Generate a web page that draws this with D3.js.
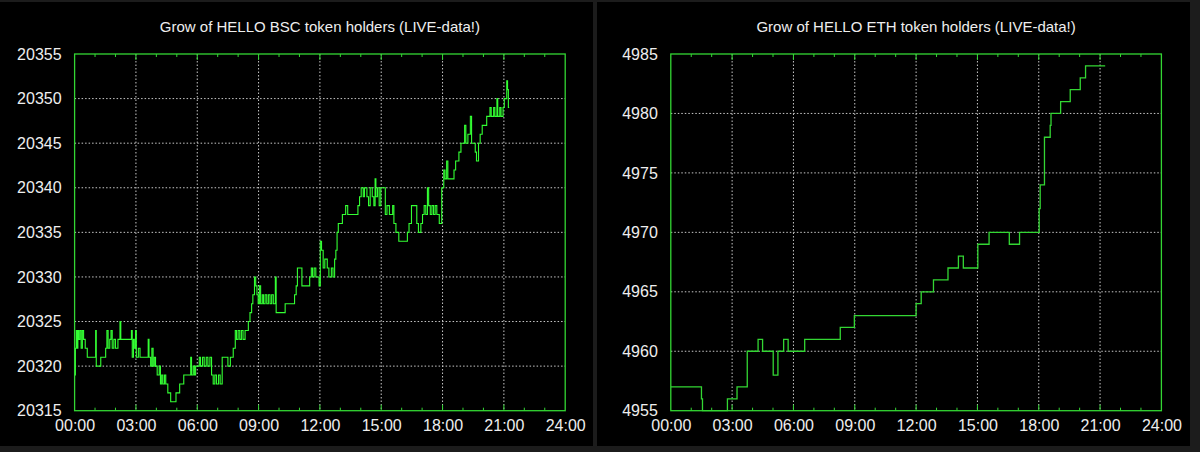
<!DOCTYPE html>
<html>
<head>
<meta charset="utf-8">
<script src="https://cdn.jsdelivr.net/npm/d3@7"></script>
<style>
  body { margin: 0; background: #1c1c1c; }
  svg { display: block; }
</style>
</head>
<body>
<div id="charts"></div>
<script>
// hour ticks and labels shared by both charts
var hourTicks = [0, 3, 6, 9, 12, 15, 18, 21, 24];
var hourLabels = ["00:00", "03:00", "06:00", "09:00", "12:00", "15:00", "18:00", "21:00", "24:00"];

// BSC holders, time in hours since midnight
var bscTimes = [0.00, 0.04, 0.08, 0.12, 0.16, 0.20, 0.26, 0.32, 0.38, 0.44, 0.52, 0.62, 1.03, 1.06, 1.28,
  1.52, 1.58, 1.64, 1.72, 1.78, 1.84, 1.92, 2.00, 2.12, 2.22, 2.26, 2.78, 2.82, 2.88, 2.92, 2.98,
  3.02, 3.12, 3.20, 3.60, 3.64, 3.72, 3.78, 3.84, 3.90, 3.96, 4.04, 4.14, 4.20, 4.26, 4.32, 4.40,
  4.46, 4.56, 4.70, 4.96, 5.14, 5.34, 5.68, 5.72, 5.80, 5.86, 5.92, 6.10, 6.16, 6.26, 6.34, 6.44,
  6.52, 6.62, 6.70, 6.78, 6.86, 6.94, 7.04, 7.12, 7.22, 7.50, 7.62, 7.76, 7.86, 7.92, 8.00, 8.08,
  8.16, 8.24, 8.34, 8.50, 8.58, 8.66, 8.72, 8.80, 8.86, 8.92, 8.98, 9.04, 9.10, 9.18, 9.24, 9.32,
  9.40, 9.48, 9.56, 9.64, 9.72, 9.82, 9.86, 10.30, 10.76, 10.84, 10.90, 11.12, 11.50, 11.58, 11.64,
  11.72, 11.80, 11.96, 12.02, 12.08, 12.16, 12.24, 12.36, 12.44, 12.56, 12.64, 12.72, 12.78, 12.84,
  12.90, 13.10, 13.26, 13.36, 13.86, 13.94, 14.02, 14.12, 14.18, 14.30, 14.38, 14.46, 14.56, 14.64,
  14.70, 14.74, 14.82, 14.90, 14.98, 15.20, 15.28, 15.40, 15.56, 15.62, 15.72, 15.86, 16.28, 16.36,
  16.48, 16.74, 16.82, 16.94, 17.02, 17.10, 17.18, 17.26, 17.32, 17.40, 17.48, 17.56, 17.64, 17.72,
  17.84, 17.96, 18.06, 18.12, 18.20, 18.26, 18.56, 18.64, 18.80, 18.90, 19.08, 19.14, 19.24, 19.36,
  19.42, 19.60, 19.66, 19.76, 19.84, 19.94, 20.16, 20.32, 20.38, 20.50, 20.56, 20.66, 20.70, 20.80,
  20.86, 20.96, 21.02, 21.14, 21.18, 21.22, 21.26];
var bscHolders = [20319, 20322, 20324, 20322, 20324, 20323, 20324, 20322, 20324, 20323, 20322, 20321, 20324, 20320, 20321,
  20322, 20324, 20322, 20323, 20324, 20322, 20323, 20322, 20323, 20325, 20323, 20324, 20321, 20323, 20322, 20324,
  20321, 20322, 20321, 20323, 20321, 20320, 20322, 20320, 20321, 20320, 20319, 20320, 20318, 20319, 20318, 20319,
  20318, 20317, 20316, 20317, 20318, 20319, 20321, 20319, 20320, 20319, 20320, 20321, 20320, 20321, 20320, 20321,
  20320, 20321, 20319, 20318, 20319, 20318, 20319, 20318, 20321, 20320, 20321, 20322, 20324, 20323, 20324, 20323,
  20324, 20323, 20324, 20325, 20326, 20327, 20328, 20330, 20329, 20328, 20327, 20329, 20327, 20328, 20327, 20328,
  20327, 20328, 20327, 20328, 20327, 20330, 20326, 20327, 20328, 20329, 20331, 20329, 20330, 20331, 20330,
  20331, 20330, 20329, 20334, 20333, 20331, 20332, 20331, 20330, 20331, 20330, 20332, 20333, 20335,
  20336, 20337, 20338, 20337, 20338, 20339, 20340, 20339, 20340, 20339, 20338, 20340, 20339, 20338,
  20341, 20339, 20340, 20338, 20340, 20337, 20338, 20337, 20338, 20336, 20335, 20334, 20335, 20336,
  20338, 20336, 20335, 20336, 20337, 20338, 20337, 20340, 20338, 20337, 20338, 20337, 20338, 20337,
  20336, 20340, 20342, 20341, 20343, 20341, 20342, 20343, 20344, 20345, 20347, 20345, 20346, 20348,
  20345, 20344, 20343, 20345, 20346, 20347, 20348, 20349, 20348, 20349, 20348, 20350, 20348, 20349,
  20348, 20349, 20350, 20352, 20351, 20349, 20349];
var bscTicks = [20315, 20320, 20325, 20330, 20335, 20340, 20345, 20350, 20355];

// ETH holders, time in hours since midnight
var ethTimes = [0.00, 1.50, 1.55, 2.77, 3.24, 3.74, 4.27, 4.49, 5.01, 5.24, 5.52, 5.74, 6.55, 8.29,
  8.98, 12.00, 12.25, 12.85, 13.56, 14.07, 14.31, 15.02, 15.57, 16.56, 17.06, 18.02, 18.07, 18.28,
  18.56, 18.60, 19.07, 19.54, 20.03, 20.29, 21.25];
var ethHolders = [4957, 4956, 4955, 4956, 4957, 4960, 4961, 4960, 4958, 4960, 4961, 4960, 4961, 4962,
  4963, 4964, 4965, 4966, 4967, 4968, 4967, 4969, 4970, 4969, 4970, 4972, 4974, 4978,
  4979, 4980, 4981, 4982, 4983, 4984, 4984];
var ethTicks = [4955, 4960, 4965, 4970, 4975, 4980, 4985];

var W = 1200, H = 452;
var svg = d3.select("#charts").append("svg")
    .attr("width", W)
    .attr("height", H);

svg.append("rect").attr("width", W).attr("height", H).attr("fill", "#1c1c1c");

drawPanel({
  left: 0, panelWidth: 593, plotLeft: 74.6,
  title: "Grow of HELLO BSC token holders (LIVE-data!)",
  times: bscTimes, values: bscHolders, yTicks: bscTicks,
  lineColor: "#33ff33", lineWidth: 1.1
});

drawPanel({
  left: 597, panelWidth: 593, plotLeft: 73.8,
  title: "Grow of HELLO ETH token holders (LIVE-data!)",
  times: ethTimes, values: ethHolders, yTicks: ethTicks,
  lineColor: "#33d633", lineWidth: 1.3
});

function drawPanel(cfg) {
  var plotW = 490.6, plotTop = 54, plotH = 356.7;
  var frameColor = "#33d633";

  var panel = svg.append("g").attr("transform", "translate(" + cfg.left + ",0)");
  panel.append("rect")
    .attr("y", 2)
    .attr("width", cfg.panelWidth)
    .attr("height", 444)
    .attr("fill", "#000");

  var g = panel.append("g")
    .attr("transform", "translate(" + cfg.plotLeft + "," + plotTop + ")");

  var x = d3.scaleLinear().domain([0, 24]).range([0, plotW]);
  var y = d3.scaleLinear()
    .domain([cfg.yTicks[0], cfg.yTicks[cfg.yTicks.length - 1]])
    .range([plotH, 0]);

  // dotted grid
  var inner = hourTicks.slice(1, -1);
  g.append("g").attr("class", "grid")
    .selectAll("line").data(inner).enter().append("line")
      .attr("x1", function (d) { return x(d); })
      .attr("x2", function (d) { return x(d); })
      .attr("y1", 0).attr("y2", plotH);
  g.append("g").attr("class", "grid")
    .selectAll("line").data(cfg.yTicks.slice(1, -1)).enter().append("line")
      .attr("x1", 0).attr("x2", plotW)
      .attr("y1", function (d) { return y(d); })
      .attr("y2", function (d) { return y(d); });
  g.selectAll(".grid line")
    .attr("stroke", "#c8c8c8")
    .attr("stroke-width", 1)
    .attr("stroke-dasharray", "1.5,2");

  // minor hour ticks on top and bottom border
  var hours = d3.range(1, 24);
  var tickG = g.append("g");
  hours.forEach(function (h) {
    var len = (h % 3 === 0) ? 6 : 3;
    tickG.append("line")
      .attr("x1", x(h)).attr("x2", x(h))
      .attr("y1", plotH).attr("y2", plotH - len);
    tickG.append("line")
      .attr("x1", x(h)).attr("x2", x(h))
      .attr("y1", 0).attr("y2", len);
  });
  tickG.selectAll("line").attr("stroke", frameColor).attr("stroke-width", 1);

  // data line
  var pts = cfg.times.map(function (t, i) { return {t: t, v: cfg.values[i]}; });
  var line = d3.line()
    .x(function (d) { return x(d.t); })
    .y(function (d) { return y(d.v); })
    .curve(d3.curveStepAfter);
  g.append("path")
    .datum(pts)
    .attr("fill", "none")
    .attr("stroke", cfg.lineColor)
    .attr("stroke-width", cfg.lineWidth)
    .attr("d", line);

  // frame
  g.append("rect")
    .attr("width", plotW).attr("height", plotH)
    .attr("fill", "none")
    .attr("stroke", frameColor)
    .attr("stroke-width", 1.3);

  // axis labels
  var xAxis = g.append("g")
    .attr("transform", "translate(0," + plotH + ")")
    .call(d3.axisBottom(x)
      .tickValues(hourTicks)
      .tickFormat(function (d, i) { return hourLabels[i]; })
      .tickSize(0)
      .tickPadding(9));
  var yAxis = g.append("g")
    .call(d3.axisLeft(y)
      .tickValues(cfg.yTicks)
      .tickFormat(d3.format("d"))
      .tickSize(0)
      .tickPadding(13));
  [xAxis, yAxis].forEach(function (a) {
    a.select(".domain").remove();
    a.selectAll("text")
      .style("font-family", "'Liberation Sans', Arial, sans-serif")
      .style("font-size", "16px")
      .attr("fill", "#eeeeee");
  });

  // title
  panel.append("text")
    .attr("x", cfg.plotLeft + plotW / 2)
    .attr("y", 32)
    .attr("text-anchor", "middle")
    .style("font-family", "'Liberation Sans', Arial, sans-serif")
    .style("font-size", "15px")
    .attr("fill", "#eeeeee")
    .text(cfg.title);
}
</script>
</body>
</html>
